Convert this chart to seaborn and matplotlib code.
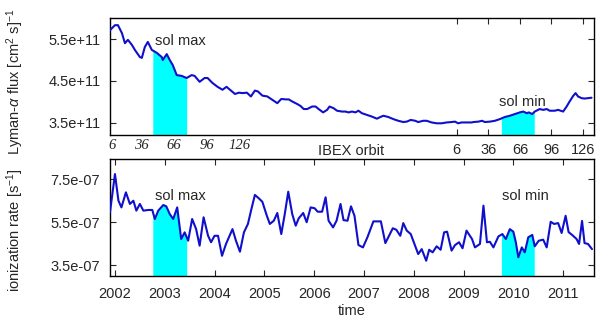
import numpy as np
import pandas as pd
import seaborn as sns
from matplotlib import pyplot as plt
import matplotlib.transforms as mtransforms

# Lyman-alpha flux (units of 1e11 photons cm^-2 s^-1)
lya_time = [2001.90, 2002.00, 2002.06, 2002.14, 2002.20, 2002.26, 2002.34, 2002.40, 2002.50, 2002.54,
            2002.60, 2002.66, 2002.74, 2002.84, 2002.94, 2002.96, 2003.04, 2003.10, 2003.16, 2003.24,
            2003.34, 2003.44, 2003.54, 2003.60, 2003.70, 2003.80, 2003.86, 2003.96, 2004.06, 2004.16,
            2004.24, 2004.33, 2004.41, 2004.49, 2004.56, 2004.65, 2004.73, 2004.81, 2004.87, 2004.96,
            2005.06, 2005.16, 2005.26, 2005.34, 2005.43, 2005.49, 2005.56, 2005.66, 2005.73, 2005.79,
            2005.86, 2005.96, 2006.03, 2006.09, 2006.18, 2006.26, 2006.31, 2006.39, 2006.46, 2006.56,
            2006.63, 2006.69, 2006.76, 2006.83, 2006.89, 2006.96, 2007.06, 2007.16, 2007.26, 2007.33,
            2007.39, 2007.49, 2007.59, 2007.69, 2007.79, 2007.86, 2007.94, 2008.03, 2008.09, 2008.19,
            2008.26, 2008.36, 2008.46, 2008.56, 2008.66, 2008.76, 2008.83, 2008.89, 2008.96, 2009.06,
            2009.16, 2009.20, 2009.30, 2009.37, 2009.43, 2009.53, 2009.63, 2009.73, 2009.83, 2009.93,
            2010.03, 2010.13, 2010.20, 2010.27, 2010.31, 2010.38, 2010.43, 2010.53, 2010.60, 2010.67,
            2010.73, 2010.83, 2010.90, 2011.00, 2011.07, 2011.13, 2011.20, 2011.25, 2011.30, 2011.37,
            2011.43, 2011.50, 2011.57]
lya_flux = [5.71, 5.83, 5.83, 5.64, 5.40, 5.48, 5.36, 5.24, 5.07, 5.05,
            5.31, 5.43, 5.24, 5.17, 5.07, 5.00, 5.14, 5.00, 4.88, 4.64,
            4.62, 4.57, 4.64, 4.62, 4.48, 4.57, 4.57, 4.45, 4.36, 4.29,
            4.36, 4.27, 4.19, 4.22, 4.21, 4.22, 4.13, 4.27, 4.25, 4.15,
            4.13, 4.05, 3.97, 4.07, 4.06, 4.06, 4.01, 3.95, 3.90, 3.83,
            3.83, 3.89, 3.89, 3.83, 3.75, 3.81, 3.89, 3.85, 3.79, 3.77,
            3.77, 3.75, 3.77, 3.75, 3.79, 3.73, 3.69, 3.65, 3.60, 3.64,
            3.67, 3.64, 3.59, 3.55, 3.52, 3.53, 3.57, 3.55, 3.52, 3.55,
            3.55, 3.51, 3.49, 3.49, 3.51, 3.52, 3.53, 3.49, 3.51, 3.51,
            3.51, 3.52, 3.53, 3.55, 3.52, 3.53, 3.55, 3.59, 3.64, 3.67,
            3.71, 3.75, 3.77, 3.73, 3.75, 3.71, 3.77, 3.83, 3.81, 3.83,
            3.79, 3.79, 3.81, 3.77, 3.89, 4.01, 4.14, 4.21, 4.13, 4.09,
            4.08, 4.09, 4.10]

# ionization rate (units of 1e-7 s^-1)
ion_time = [2001.90, 2002.00, 2002.07, 2002.13, 2002.22, 2002.30, 2002.37, 2002.43, 2002.50, 2002.57,
            2002.67, 2002.75, 2002.80, 2002.87, 2002.97, 2003.03, 2003.10, 2003.17, 2003.25, 2003.33,
            2003.40, 2003.47, 2003.55, 2003.63, 2003.70, 2003.78, 2003.87, 2003.93, 2004.00, 2004.07,
            2004.15, 2004.23, 2004.36, 2004.43, 2004.51, 2004.59, 2004.67, 2004.74, 2004.81, 2004.89,
            2004.96, 2005.05, 2005.11, 2005.19, 2005.26, 2005.34, 2005.41, 2005.48, 2005.56, 2005.63,
            2005.69, 2005.78, 2005.85, 2005.93, 2006.01, 2006.07, 2006.16, 2006.23, 2006.29, 2006.38,
            2006.45, 2006.53, 2006.59, 2006.67, 2006.74, 2006.81, 2006.89, 2006.98, 2007.07, 2007.19,
            2007.34, 2007.43, 2007.58, 2007.65, 2007.73, 2007.79, 2007.86, 2007.94, 2008.09, 2008.16,
            2008.25, 2008.31, 2008.38, 2008.46, 2008.54, 2008.61, 2008.67, 2008.76, 2008.83, 2008.91,
            2008.98, 2009.06, 2009.17, 2009.23, 2009.33, 2009.40, 2009.47, 2009.53, 2009.60, 2009.70,
            2009.78, 2009.85, 2009.93, 2010.00, 2010.05, 2010.10, 2010.17, 2010.23, 2010.30, 2010.38,
            2010.43, 2010.51, 2010.60, 2010.67, 2010.75, 2010.82, 2010.90, 2010.97, 2011.05, 2011.11,
            2011.18, 2011.27, 2011.32, 2011.38, 2011.43, 2011.50, 2011.58]
ion_rate = [5.95, 7.73, 6.49, 6.18, 6.88, 6.34, 6.49, 6.03, 6.34, 6.03,
            6.06, 6.06, 5.64, 6.03, 6.29, 6.23, 5.87, 5.64, 6.18, 4.71,
            5.02, 4.63, 5.64, 5.17, 4.40, 5.72, 4.86, 4.56, 4.86, 4.86,
            3.93, 4.48, 5.17, 4.63, 4.12, 5.02, 5.41, 6.10, 6.76, 6.60,
            6.44, 5.79, 5.41, 5.56, 5.92, 4.94, 5.87, 6.91, 5.87, 5.33,
            5.67, 5.92, 5.49, 6.18, 6.14, 5.98, 5.98, 6.65, 5.56, 5.25,
            5.56, 6.34, 5.59, 5.56, 6.23, 5.79, 4.43, 4.32, 4.79, 5.53,
            5.53, 4.52, 5.21, 5.14, 4.86, 5.45, 5.10, 4.94, 4.01, 4.24,
            3.70, 4.21, 4.09, 4.37, 4.21, 5.02, 5.05, 4.17, 4.43, 4.56,
            4.28, 5.10, 4.71, 4.32, 4.48, 6.26, 4.56, 4.58, 4.32, 4.83,
            4.94, 4.71, 5.17, 5.05, 4.56, 3.86, 4.32, 4.09, 4.79, 4.90,
            4.37, 4.63, 4.68, 4.32, 5.51, 5.41, 5.45, 4.99, 5.79, 5.03,
            4.90, 4.71, 4.48, 5.55, 4.52, 4.48, 4.24]

sol_max = (2002.76, 2003.44)
sol_min = (2009.76, 2010.42)

year_ticks = list(range(2002, 2012))
orbit_labels = ['6', '36', '66', '96', '126']
orbit_time = [2008.86, 2009.50, 2010.14, 2010.76, 2011.40]
orbit_time_early = [2001.94, 2002.54, 2003.18, 2003.84, 2004.50]

lya_ticks = [3.5e11, 4.5e11, 5.5e11]
lya_ticklabels = ['3.5e+11', '4.5e+11', '5.5e+11']
ion_ticks = [3.5e-7, 5.5e-7, 7.5e-7]
ion_ticklabels = ['3.5e-07', '5.5e-07', '7.5e-07']

sns.set_theme(style="ticks")
plt.rcParams['font.family'] = ['Liberation Sans', 'DejaVu Sans']
plt.rcParams['mathtext.fontset'] = 'custom'
plt.rcParams['mathtext.rm'] = 'Liberation Sans'
plt.rcParams['mathtext.it'] = 'Liberation Sans:italic'

FS = 10.5
LINE = '#1010cc'
FILL = '#00ffff'

lya = pd.DataFrame({'time': lya_time, 'flux': np.array(lya_flux) * 1e11})
ion = pd.DataFrame({'time': ion_time, 'rate': np.array(ion_rate) * 1e-7})

fig = plt.figure(figsize=(6, 3.2), dpi=100)
ax1 = fig.add_axes([0.1833, 0.578, 0.8067, 0.3656])
ax2 = fig.add_axes([0.1833, 0.1375, 0.8067, 0.3656])

xlim = (2001.9, 2011.62)


def shade(ax, t, y, span, ybottom):
    tt = np.linspace(span[0], span[1], 200)
    yy = np.interp(tt, t, y)
    ax.fill_between(tt, ybottom, yy, color=FILL, lw=0, zorder=1)


# top panel
ylim1 = (3.21e11, 6.0e11)
shade(ax1, lya['time'], lya['flux'], sol_max, ylim1[0])
shade(ax1, lya['time'], lya['flux'], sol_min, ylim1[0])
sns.lineplot(data=lya, x='time', y='flux', ax=ax1, color=LINE, lw=1.5, zorder=3)
ax1.set_xlim(*xlim)
ax1.set_ylim(*ylim1)
ax1.set_yticks(lya_ticks)
ax1.set_yticklabels(lya_ticklabels, fontsize=FS)
ax1.set_xticks(orbit_time)
ax1.set_xticklabels(orbit_labels, fontsize=FS)
ax1.set_xlabel('')
ax1.set_ylabel('')
ax1.tick_params(direction='in', top=True, right=True, length=4, width=0.8)
ax1.tick_params(axis='y', pad=7)
ax1.tick_params(axis='x', pad=6)
ax1.text(2002.8, 5.45e11, 'sol max', fontsize=FS, va='center')
ax1.text(2009.72, 4.0e11, 'sol min', fontsize=FS, va='center')
trans = mtransforms.blended_transform_factory(ax1.transData, ax1.transAxes)
for t, lab in zip(orbit_time_early, orbit_labels):
    ax1.text(t, -0.035, lab, transform=trans, ha='center', va='top', fontsize=FS,
             family='Liberation Serif', style='italic')
ax1.text(2006.74, -0.08, 'IBEX orbit', transform=trans, ha='center', va='top', fontsize=FS)

# bottom panel
ylim2 = (2.99e-7, 8.43e-7)
shade(ax2, ion['time'], ion['rate'], sol_max, ylim2[0])
shade(ax2, ion['time'], ion['rate'], sol_min, ylim2[0])
sns.lineplot(data=ion, x='time', y='rate', ax=ax2, color=LINE, lw=1.5, zorder=3)
ax2.set_xlim(*xlim)
ax2.set_ylim(*ylim2)
ax2.set_yticks(ion_ticks)
ax2.set_yticklabels(ion_ticklabels, fontsize=FS)
ax2.set_xticks(year_ticks)
ax2.set_xticklabels([str(y) for y in year_ticks], fontsize=FS)
ax2.set_xlabel('time', fontsize=FS, labelpad=2)
ax2.set_ylabel('')
ax2.tick_params(direction='in', top=True, right=True, length=4, width=0.8)
ax2.tick_params(axis='y', pad=7)
ax2.tick_params(axis='x', pad=8)
ax2.text(2002.8, 6.71e-7, 'sol max', fontsize=FS, va='center')
ax2.text(2009.78, 6.71e-7, 'sol min', fontsize=FS, va='center')

for ax in (ax1, ax2):
    for s in ax.spines.values():
        s.set_linewidth(1.0)
        s.set_color('black')

fig.text(0.026, 0.745, r'Lyman-$\alpha$ flux [cm$^2$ s]$^{-1}$', rotation=90,
         ha='center', va='center', fontsize=FS)
fig.text(0.026, 0.28, r'ionization rate [s$^{-1}$]', rotation=90,
         ha='center', va='center', fontsize=FS)

fig.savefig('out.png', dpi=100)
